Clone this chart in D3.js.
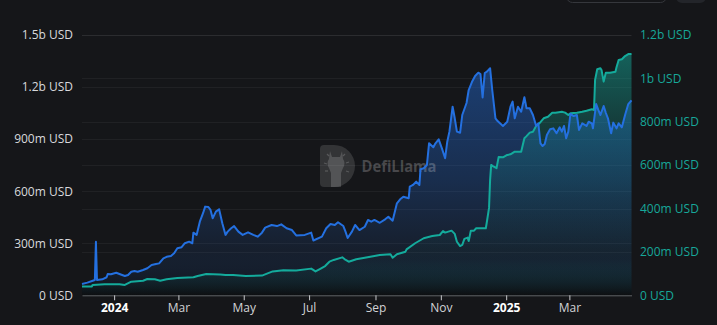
<!DOCTYPE html>
<html>
<head>
<meta charset="utf-8">
<script src="https://cdn.jsdelivr.net/npm/d3@7"></script>
<style>
  html, body { margin: 0; padding: 0; background: #151619; overflow: hidden; }
  svg { display: block; }
</style>
</head>
<body>
<svg id="chart" width="717" height="325"></svg>
<script>
// TVL (left axis), millions of USD
const tvlDates = [
  "2023-12-02","2023-12-07","2023-12-12","2023-12-14","2023-12-15","2023-12-16","2023-12-21","2023-12-25","2023-12-26","2023-12-29",
  "2024-01-03","2024-01-06","2024-01-11","2024-01-14","2024-01-17","2024-01-20","2024-01-23","2024-01-28","2024-02-01","2024-02-05",
  "2024-02-09","2024-02-12","2024-02-16","2024-02-19","2024-02-23","2024-02-26","2024-02-29","2024-03-04","2024-03-07","2024-03-11",
  "2024-03-14","2024-03-15","2024-03-18","2024-03-21","2024-03-24","2024-03-26","2024-03-29","2024-03-31","2024-04-02","2024-04-05",
  "2024-04-08","2024-04-11","2024-04-14","2024-04-16","2024-04-19","2024-04-22","2024-04-26","2024-04-30","2024-05-05","2024-05-10",
  "2024-05-14","2024-05-18","2024-05-21","2024-05-27","2024-06-01","2024-06-05","2024-06-10","2024-06-15","2024-06-19","2024-06-27",
  "2024-07-03","2024-07-05","2024-07-13","2024-07-17","2024-07-21","2024-07-25","2024-07-28","2024-08-02","2024-08-04","2024-08-06",
  "2024-08-10","2024-08-13","2024-08-17","2024-08-22","2024-08-25","2024-08-28","2024-08-31","2024-09-05","2024-09-10","2024-09-13",
  "2024-09-17","2024-09-21","2024-09-24","2024-09-27","2024-10-02","2024-10-03","2024-10-06","2024-10-09","2024-10-12","2024-10-13",
  "2024-10-16","2024-10-19","2024-10-21","2024-10-25","2024-10-27","2024-10-30","2024-11-02","2024-11-05","2024-11-07","2024-11-09",
  "2024-11-12","2024-11-14","2024-11-16","2024-11-19","2024-11-21","2024-11-25","2024-11-27","2024-11-30","2024-12-03","2024-12-06",
  "2024-12-08","2024-12-10","2024-12-12","2024-12-14","2024-12-17","2024-12-19","2024-12-22","2024-12-24","2024-12-27","2024-12-29",
  "2025-01-02","2025-01-05","2025-01-07","2025-01-09","2025-01-12","2025-01-15","2025-01-18","2025-01-20","2025-01-23","2025-01-26",
  "2025-01-29","2025-01-31","2025-02-02","2025-02-04","2025-02-06","2025-02-08","2025-02-11","2025-02-14","2025-02-17","2025-02-20",
  "2025-02-22","2025-02-24","2025-02-26","2025-02-28","2025-03-02","2025-03-05","2025-03-08","2025-03-10","2025-03-13","2025-03-17",
  "2025-03-19","2025-03-22","2025-03-23","2025-03-26","2025-03-28","2025-03-30","2025-04-02","2025-04-04","2025-04-06","2025-04-09",
  "2025-04-11","2025-04-14","2025-04-16","2025-04-19","2025-04-22","2025-04-25","2025-04-28"
];
const tvlValues = [
  65, 73, 84, 88, 309, 88, 92, 104, 123, 121,
  130, 123, 111, 117, 136, 140, 136, 146, 156, 175,
  180, 184, 213, 222, 227, 242, 271, 277, 300, 309,
  300, 361, 348, 424, 473, 511, 509, 492, 444, 482,
  496, 415, 348, 367, 385, 399, 367, 348, 363, 348,
  338, 361, 390, 405, 399, 409, 386, 376, 345, 348,
  361, 316, 338, 386, 411, 405, 421, 399, 367, 330,
  367, 405, 376, 395, 434, 424, 434, 418, 438, 453,
  430, 530, 553, 568, 559, 626, 636, 655, 636, 726,
  732, 751, 876, 853, 876, 899, 847, 790, 885, 943,
  1087, 1020, 943, 937, 1039, 1108, 1183, 1229, 1264, 1283,
  1275, 1140, 1281, 1289, 1308, 1183, 1020, 1004, 987, 976,
  1000, 1087, 1116, 1020, 1087, 1058, 1141, 1078, 1078, 1039,
  976, 991, 876, 860, 872, 924, 957, 962, 934, 968,
  943, 976, 905, 943, 1045, 1033, 1039, 953, 991, 976,
  1000, 991, 962, 1102, 1068, 1039, 1091, 1052, 1020, 934,
  995, 962, 991, 968, 1039, 1102, 1123
];

// Market cap (right axis), millions of USD
const mcapDates = [
  "2023-12-02","2023-12-11","2023-12-12","2023-12-23","2024-01-06","2024-01-11","2024-01-17","2024-01-28","2024-02-01","2024-02-08",
  "2024-02-13","2024-02-19","2024-02-29","2024-03-15","2024-03-19","2024-03-27","2024-04-09","2024-04-14","2024-04-21","2024-05-03",
  "2024-05-18","2024-05-28","2024-06-07","2024-06-19","2024-07-03","2024-07-07","2024-07-11","2024-07-16","2024-07-20","2024-07-24",
  "2024-08-01","2024-08-03","2024-08-07","2024-08-14","2024-08-22","2024-08-31","2024-09-05","2024-09-15","2024-09-17","2024-09-21",
  "2024-09-29","2024-09-30","2024-10-08","2024-10-16","2024-10-24","2024-10-31","2024-11-03","2024-11-05","2024-11-11","2024-11-14",
  "2024-11-16","2024-11-19","2024-11-21","2024-11-23","2024-11-26","2024-11-27","2024-11-29","2024-12-02","2024-12-04","2024-12-13",
  "2024-12-14","2024-12-16","2024-12-17","2024-12-18","2024-12-20","2024-12-23","2024-12-25","2024-12-29","2025-01-02","2025-01-05",
  "2025-01-09","2025-01-15","2025-01-18","2025-01-20","2025-01-23","2025-01-26","2025-01-29","2025-02-01","2025-02-05","2025-02-09",
  "2025-02-13","2025-02-16","2025-02-22","2025-02-25","2025-02-28","2025-03-02","2025-03-08","2025-03-13","2025-03-17","2025-03-22",
  "2025-03-24","2025-03-25","2025-03-27","2025-03-30","2025-03-31","2025-04-02","2025-04-04","2025-04-08","2025-04-13","2025-04-14",
  "2025-04-16","2025-04-19","2025-04-22","2025-04-25","2025-04-28"
];
const mcapValues = [
  40, 40, 48, 51, 51, 48, 63, 67, 75, 74,
  67, 74, 80, 83, 89, 98, 96, 94, 94, 89,
  91, 110, 115, 114, 123, 110, 121, 135, 155, 163,
  175, 167, 155, 166, 173, 181, 186, 189, 173, 189,
  201, 212, 240, 263, 273, 278, 296, 289, 298, 283,
  247, 227, 232, 260, 266, 250, 298, 298, 309, 309,
  339, 403, 532, 601, 594, 586, 638, 636, 647, 650,
  662, 662, 724, 734, 750, 754, 781, 793, 816, 823,
  842, 842, 846, 842, 831, 839, 842, 846, 851, 858,
  854, 993, 1042, 1047, 1039, 985, 1026, 1026, 1031, 1051,
  1085, 1088, 1103, 1112, 1112
];

const leftTicks = [0, 300, 600, 900, 1200, 1500];
const leftTickLabels = ["0 USD", "300m USD", "600m USD", "900m USD", "1.2b USD", "1.5b USD"];
const rightTicks = [0, 200, 400, 600, 800, 1000, 1200];
const rightTickLabels = ["0 USD", "200m USD", "400m USD", "600m USD", "800m USD", "1b USD", "1.2b USD"];
const xTicks = ["2024-01-01", "2024-03-01", "2024-05-01", "2024-07-01", "2024-09-01", "2024-11-01", "2025-01-01", "2025-03-01"];
const xTickLabels = ["2024", "Mar", "May", "Jul", "Sep", "Nov", "2025", "Mar"];

const BLUE = "#2470e0";
const TEAL = "#14ab9c";
const FONT = "'Open Sans', 'Noto Sans', sans-serif";

const svg = d3.select("#chart");
const plot = { left: 82, right: 631.5, top: 35, bottom: 295.3 };

const tvl = tvlDates.map((d, i) => ({ date: new Date(d), value: tvlValues[i] }));
const mcap = mcapDates.map((d, i) => ({ date: new Date(d), value: mcapValues[i] }));

const x = d3.scaleUtc()
  .domain(d3.extent(tvl.concat(mcap), d => d.date))
  .range([plot.left, plot.right]);
const yL = d3.scaleLinear().domain([0, 1500]).range([plot.bottom, plot.top]);
const yR = d3.scaleLinear().domain([0, 1200]).range([plot.bottom, plot.top]);

// background
svg.append("rect").attr("width", 717).attr("height", 325).attr("fill", "#151619");

// toolbar controls peeking in at the top edge
svg.append("rect").attr("x", 566.5).attr("y", -20).attr("width", 100).attr("height", 22.5)
  .attr("rx", 6).attr("fill", "none").attr("stroke", "#35373c").attr("stroke-width", 1);
svg.append("rect").attr("x", 676).attr("y", -20).attr("width", 30).attr("height", 23)
  .attr("rx", 6).attr("fill", "#23252a");

// gradients
const defs = svg.append("defs");
function areaGradient(id, color, yTop, stops) {
  const g = defs.append("linearGradient").attr("id", id)
    .attr("gradientUnits", "userSpaceOnUse")
    .attr("x1", 0).attr("x2", 0).attr("y1", yTop).attr("y2", plot.bottom);
  stops.forEach(([offset, alpha]) => {
    g.append("stop").attr("offset", offset).attr("stop-color", color).attr("stop-opacity", alpha);
  });
  g.append("stop").attr("offset", 1).attr("stop-color", "#05070a").attr("stop-opacity", 0.3);
}
areaGradient("gradTvl", BLUE, yL(d3.max(tvlValues)), [[0, 0.45], [0.5, 0.26], [0.8, 0.1]]);
areaGradient("gradMcap", TEAL, yR(d3.max(mcapValues)), [[0, 0.5], [0.3, 0.25], [0.6, 0.1], [0.85, 0.03]]);

// grid lines for both value axes
const grid = svg.append("g").attr("stroke", "#ffffff").attr("stroke-opacity", 0.05).attr("stroke-width", 1);
leftTicks.slice(1).forEach(t => {
  grid.append("line").attr("x1", plot.left).attr("x2", plot.right)
    .attr("y1", Math.round(yL(t)) + 0.5).attr("y2", Math.round(yL(t)) + 0.5);
});
rightTicks.slice(1).forEach(t => {
  grid.append("line").attr("x1", plot.left).attr("x2", plot.right)
    .attr("y1", Math.round(yR(t)) + 0.5).attr("y2", Math.round(yR(t)) + 0.5);
});

// areas
const areaL = d3.area().x(d => x(d.date)).y0(plot.bottom).y1(d => yL(d.value));
const areaR = d3.area().x(d => x(d.date)).y0(plot.bottom).y1(d => yR(d.value));
svg.append("path").datum(tvl).attr("d", areaL).attr("fill", "url(#gradTvl)");
svg.append("path").datum(mcap).attr("d", areaR).attr("fill", "url(#gradMcap)");

// watermark
const wm = svg.append("g").attr("class", "watermark");
wm.append("path")
  .attr("d", "M324,145 h10 a21,21 0 0 1 0,42 h-10 a4,4 0 0 1 -4,-4 v-34 a4,4 0 0 1 4,-4 z")
  .attr("fill", "#ffffff").attr("fill-opacity", 0.13);
wm.append("path")
  .attr("d", "M330,151 l2,6 h8 l2,-6 l1,8 q3,4 0,9 l-2,5 v14 h-10 v-14 l-2,-5 q-3,-5 0,-9 z")
  .attr("fill", "#ffffff").attr("fill-opacity", 0.16);
[[324,163,327,164],[325,171,328,171],[346,163,349,162],[346,171,349,172],[343,156,345,154],[329,156,327,154]].forEach(s => {
  wm.append("line").attr("x1", s[0]).attr("y1", s[1]).attr("x2", s[2]).attr("y2", s[3])
    .attr("stroke", "#ffffff").attr("stroke-opacity", 0.18).attr("stroke-width", 1.3);
});
wm.append("text").attr("x", 361.5).attr("y", 171.5)
  .attr("font-family", FONT).attr("font-weight", 700).attr("font-size", 16)
  .attr("textLength", 75).attr("lengthAdjust", "spacingAndGlyphs")
  .attr("fill", "#ffffff").attr("fill-opacity", 0.22).text("DefiLlama");

// lines
const lineL = d3.line().x(d => x(d.date)).y(d => yL(d.value));
const lineR = d3.line().x(d => x(d.date)).y(d => yR(d.value));
svg.append("path").datum(mcap).attr("d", lineR).attr("fill", "none")
  .attr("stroke", TEAL).attr("stroke-width", 2).attr("stroke-linejoin", "round");
svg.append("path").datum(tvl).attr("d", lineL).attr("fill", "none")
  .attr("stroke", BLUE).attr("stroke-width", 2).attr("stroke-linejoin", "round");

// x axis
const xAxis = d3.axisBottom(x)
  .tickValues(xTicks.map(d => new Date(d)))
  .tickFormat((d, i) => xTickLabels[i])
  .tickSizeInner(5).tickSizeOuter(0).tickPadding(3);
const gx = svg.append("g").attr("transform", `translate(0,${plot.bottom})`).call(xAxis);
gx.select(".domain").attr("stroke", "#5f6165");
gx.selectAll(".tick line").attr("stroke", "#c8c9cc");
gx.selectAll(".tick text")
  .attr("font-family", FONT).attr("font-size", 12)
  .attr("fill", (d, i) => (xTickLabels[i].length === 4 ? "#ffffff" : "#d2d3d6"))
  .attr("font-weight", (d, i) => (xTickLabels[i].length === 4 ? 700 : 400));

// left axis
const yAxisL = d3.axisLeft(yL).tickValues(leftTicks)
  .tickFormat((d, i) => leftTickLabels[i]).tickSize(0).tickPadding(9);
const gyl = svg.append("g").attr("transform", `translate(${plot.left},0)`).call(yAxisL);
gyl.select(".domain").remove();
gyl.selectAll(".tick text").attr("font-family", FONT).attr("font-size", 12).attr("fill", "#d8d9dc");

// right axis
const yAxisR = d3.axisRight(yR).tickValues(rightTicks)
  .tickFormat((d, i) => rightTickLabels[i]).tickSize(0).tickPadding(8.5);
const gyr = svg.append("g").attr("transform", `translate(${plot.right},0)`).call(yAxisR);
gyr.select(".domain").remove();
gyr.selectAll(".tick text").attr("font-family", FONT).attr("font-size", 12).attr("fill", "#17a89a");
</script>
</body>
</html>
